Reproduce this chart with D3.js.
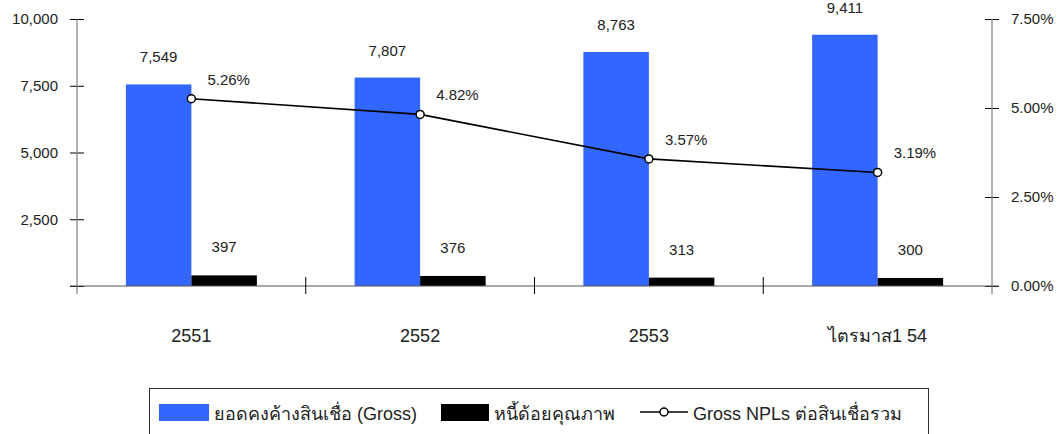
<!DOCTYPE html>
<html>
<head>
<meta charset="utf-8">
<script src="https://cdn.jsdelivr.net/npm/d3@7/dist/d3.min.js"></script>
<style>
  body { margin: 0; background: #fff; }
  text { font-family: "Liberation Sans", Arial, sans-serif; fill: #222; }
</style>
</head>
<body>
<div id="chart"></div>
<script>
// data
var categories = ["2551", "2552", "2553", "ไตรมาส1 54"];
var grossLoans = [7549, 7807, 8763, 9411];
var npls = [397, 376, 313, 300];
var nplRatio = [5.26, 4.82, 3.57, 3.19];
var leftTicks = [0, 2500, 5000, 7500, 10000];
var rightTicks = [0, 2.5, 5, 7.5];
var legendLabels = ["ยอดคงค้างสินเชื่อ (Gross)", "หนี้ด้อยคุณภาพ", "Gross NPLs ต่อสินเชื่อรวม"];

var width = 1063, height = 434;
var mLeft = 77, mRight = 992, mTop = 19, mBottom = 286;

var svg = d3.select("#chart").append("svg")
    .attr("width", width).attr("height", height);

var x = d3.scaleBand().domain(categories).range([mLeft, mRight]);
var yL = d3.scaleLinear().domain([0, 10000]).range([mBottom, mTop]);
var yR = d3.scaleLinear().domain([0, 7.5]).range([mBottom, mTop]);
var barW = 65.5;

// bars - gross
svg.selectAll("rect.gross").data(grossLoans).enter().append("rect")
    .attr("class", "gross")
    .attr("x", function(d, i) { return x(categories[i]) + x.bandwidth() / 2 - barW; })
    .attr("y", function(d) { return yL(d); })
    .attr("width", barW)
    .attr("height", function(d) { return mBottom - yL(d); })
    .attr("fill", "#3366FF");

// bars - npl
svg.selectAll("rect.npl").data(npls).enter().append("rect")
    .attr("class", "npl")
    .attr("x", function(d, i) { return x(categories[i]) + x.bandwidth() / 2; })
    .attr("y", function(d) { return yL(d); })
    .attr("width", barW)
    .attr("height", function(d) { return mBottom - yL(d); })
    .attr("fill", "#000");

// bar labels
svg.selectAll("text.glab").data(grossLoans).enter().append("text")
    .attr("x", function(d, i) { return x(categories[i]) + x.bandwidth() / 2 - barW / 2; })
    .attr("y", function(d) { return yL(d) - 22; })
    .attr("text-anchor", "middle")
    .style("font-size", "15px")
    .text(function(d) { return d3.format(",")(d); });

svg.selectAll("text.nlab").data(npls).enter().append("text")
    .attr("x", function(d, i) { return x(categories[i]) + x.bandwidth() / 2 + barW / 2; })
    .attr("y", function(d) { return yL(d) - 23; })
    .attr("text-anchor", "middle")
    .style("font-size", "15px")
    .text(function(d) { return d; });

// axes (left: no label at zero)
var gl = svg.append("g").attr("transform", "translate(" + mLeft + ",0)")
    .call(d3.axisLeft(yL).tickValues(leftTicks)
        .tickFormat(function(d) { return d == 0 ? "" : d3.format(",")(d); })
        .tickSize(7).tickPadding(12));
gl.select(".domain").remove();
gl.selectAll(".tick line").attr("x2", 7).attr("x1", -7).attr("stroke", "#000");
gl.selectAll("text").style("font-size", "15px").style("font-family", "Liberation Sans, Arial, sans-serif").attr("fill", "#222");
svg.append("line").attr("x1", mLeft).attr("x2", mLeft).attr("y1", mTop).attr("y2", mBottom + 8)
    .attr("stroke", "#808080").attr("stroke-width", 1.2);

var gr = svg.append("g").attr("transform", "translate(" + mRight + ",0)")
    .call(d3.axisRight(yR).tickValues(rightTicks).tickFormat(function(d) { return d3.format(".2f")(d) + "%"; }).tickSize(7).tickPadding(12));
gr.select(".domain").remove();
gr.selectAll(".tick line").attr("x1", -7).attr("x2", 7).attr("stroke", "#000");
gr.selectAll("text").style("font-size", "15px").style("font-family", "Liberation Sans, Arial, sans-serif").attr("fill", "#222");
svg.append("line").attr("x1", mRight).attr("x2", mRight).attr("y1", mTop).attr("y2", mBottom + 8)
    .attr("stroke", "#808080").attr("stroke-width", 1.2);

// bottom axis line
svg.append("line").attr("x1", mLeft - 7).attr("x2", mRight + 7).attr("y1", mBottom).attr("y2", mBottom)
    .attr("stroke", "#555").attr("stroke-width", 1.2);

// category separators
svg.selectAll("line.sep").data(categories.slice(1)).enter().append("line")
    .attr("x1", function(d) { return x(d); }).attr("x2", function(d) { return x(d); })
    .attr("y1", mBottom - 9).attr("y2", mBottom + 8)
    .attr("stroke", "#000");

// category labels
svg.selectAll("text.cat").data(categories).enter().append("text")
    .attr("x", function(d) { return x(d) + x.bandwidth() / 2; })
    .attr("y", 342)
    .attr("text-anchor", "middle")
    .style("font-size", "18px")
    .text(function(d) { return d; });

// ratio line
var line = d3.line()
    .x(function(d, i) { return x(categories[i]) + x.bandwidth() / 2; })
    .y(function(d) { return yR(d); });
svg.append("path").datum(nplRatio).attr("d", line)
    .attr("fill", "none").attr("stroke", "#000").attr("stroke-width", 1.6);
svg.selectAll("circle.pt").data(nplRatio).enter().append("circle")
    .attr("cx", function(d, i) { return x(categories[i]) + x.bandwidth() / 2; })
    .attr("cy", function(d) { return yR(d); })
    .attr("r", 4)
    .attr("fill", "#fff").attr("stroke", "#000").attr("stroke-width", 1.5);
svg.selectAll("text.rlab").data(nplRatio).enter().append("text")
    .attr("x", function(d, i) { return x(categories[i]) + x.bandwidth() / 2 + 16; })
    .attr("y", function(d) { return yR(d) - 14; })
    .style("font-size", "15px")
    .text(function(d) { return d3.format(".2f")(d) + "%"; });

// legend
var lg = svg.append("g");
lg.append("rect").attr("x", 149.5).attr("y", 388.5).attr("width", 779).attr("height", 60)
    .attr("fill", "#fff").attr("stroke", "#333").attr("stroke-width", 1);
lg.append("rect").attr("x", 159).attr("y", 404).attr("width", 50).attr("height", 17).attr("fill", "#3366FF");
lg.append("text").attr("x", 214).attr("y", 420).style("font-size", "18px").text(legendLabels[0]);
lg.append("rect").attr("x", 441).attr("y", 404).attr("width", 48).attr("height", 17).attr("fill", "#000");
lg.append("text").attr("x", 494).attr("y", 420).style("font-size", "18px").text(legendLabels[1]);
lg.append("line").attr("x1", 640).attr("x2", 688).attr("y1", 412).attr("y2", 412).attr("stroke", "#000").attr("stroke-width", 1.6);
lg.append("circle").attr("cx", 664).attr("cy", 412).attr("r", 4).attr("fill", "#fff").attr("stroke", "#000").attr("stroke-width", 1.5);
lg.append("text").attr("x", 693).attr("y", 420).style("font-size", "18px").text(legendLabels[2]);
</script>
</body>
</html>
